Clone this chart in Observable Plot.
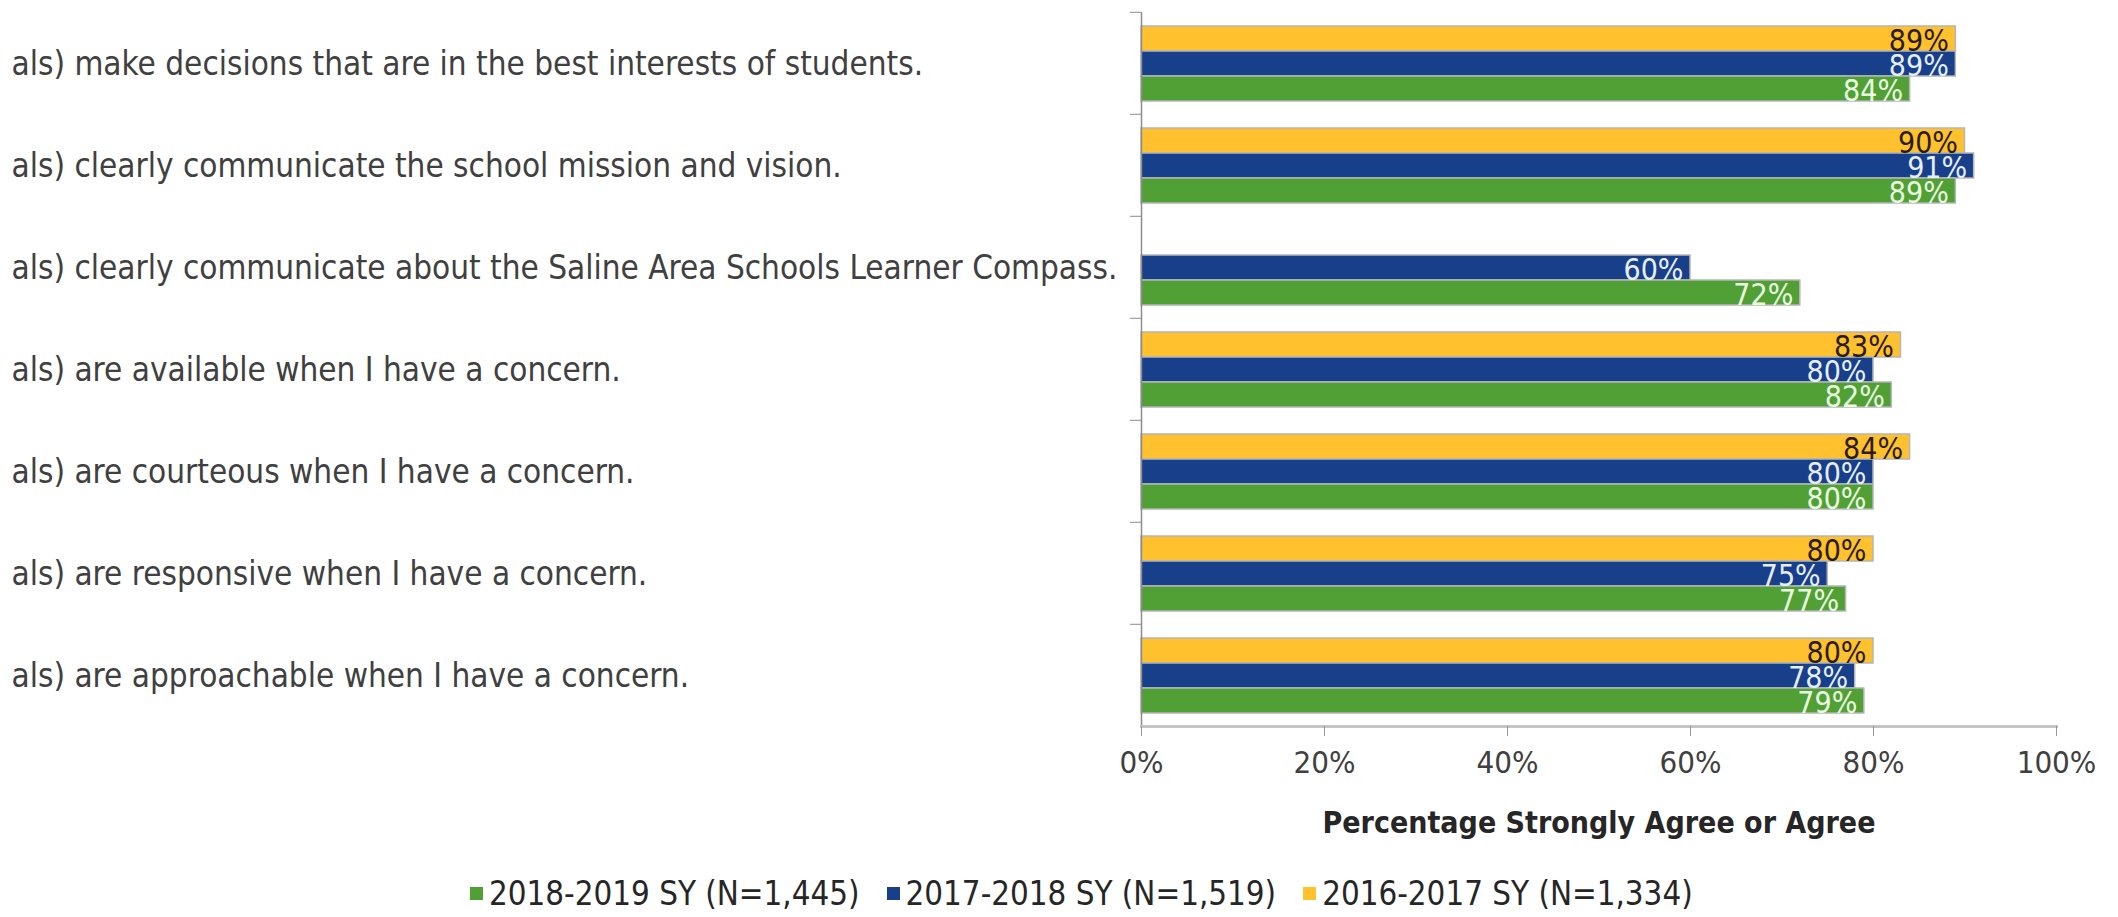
<!DOCTYPE html>
<html><head><meta charset="utf-8">
<script src="https://cdn.jsdelivr.net/npm/d3@7"></script>
<script src="https://cdn.jsdelivr.net/npm/@observablehq/plot@0.6"></script>
<style>
  body { margin:0; background:#fff; }
  #chart { width:2118px; }
  .legend { display:flex; align-items:center; height:57px; padding-left:470px; padding-top:10px; box-sizing:border-box;
            font-family:"DejaVu Sans Condensed","Liberation Sans Narrow",sans-serif; font-size:32.8px; color:#262626; }
  .legend .item { display:flex; align-items:center; margin-right:27px; }
  .legend .sw { width:13px; height:13px; margin-right:6px; }
</style></head>
<body><div id="chart"></div>
<script>
const categories = [
  "als) make decisions that are in the best interests of students.",
  "als) clearly communicate the school mission and vision.",
  "als) clearly communicate about the Saline Area Schools Learner Compass.",
  "als) are available when I have a concern.",
  "als) are courteous when I have a concern.",
  "als) are responsive when I have a concern.",
  "als) are approachable when I have a concern."
];
const series = ["2016-2017 SY (N=1,334)", "2017-2018 SY (N=1,519)", "2018-2019 SY (N=1,445)"];
const v2016 = [89, 90, null, 83, 84, 80, 80];
const v2017 = [89, 91, 60, 80, 80, 75, 78];
const v2018 = [84, 89, 72, 82, 80, 77, 79];
const barColors = ["#FFC12E", "#173F8A", "#50A035"];
const valueLabelColors = ["#2b1c00", "#e6eeff", "#eafee0"];
const legendOrder = [2, 1, 0];
const xTicks = [0, 20, 40, 60, 80, 100];
const xLabel = "Percentage Strongly Agree or Agree";

const F = '"DejaVu Sans Condensed","Liberation Sans Narrow",sans-serif';
const seriesValues = [v2016, v2017, v2018];
const rows = [];
categories.forEach((c, i) => seriesValues.forEach((arr, j) => {
  if (arr[i] != null) rows.push({cat: c, series: series[j], value: arr[i], s: j});
}));

const W = 2118, H = 860, mTop = 10, mBottomY = 727, mLeftX = 1141, mRightX = 2056;
const step = (mBottomY - mTop) / categories.length;

const chart = Plot.plot({
  width: W, height: H,
  marginLeft: mLeftX, marginRight: W - mRightX, marginTop: mTop, marginBottom: H - mBottomY,
  style: {fontFamily: F, fontSize: "31px", color: "#404040", background: "white"},
  x: {domain: [0, 100]},
  fy: {domain: categories, padding: 0, label: null},
  y: {domain: series, paddingInner: 0, paddingOuter: 0.5, axis: null},
  color: {domain: series, range: barColors},
  marks: [
    Plot.barX(rows, {fy: "cat", y: "series", x: "value", fill: "series", stroke: "#b5b5b5", strokeWidth: 1.5}),
    ...series.map((s, j) => Plot.text(rows.filter(r => r.s === j), {
      fy: "cat", y: "series", x: "value", text: d => d.value + "%",
      textAnchor: "end", dx: -7, dy: 2, fill: valueLabelColors[j], fontSize: 30
    })),
    Plot.ruleX([0], {stroke: "#8c8c8c", strokeWidth: 1.5}),
    Plot.axisFy({anchor: "left", tickSize: 11, tickFormat: () => "", dy: -step / 2, stroke: "#8c8c8c", label: null}),
    Plot.axisFy({anchor: "left", tickSize: 0, tickPadding: 0, textAnchor: "start", dx: -(mLeftX - 11), dy: 1, fill: "#404040", fontSize: 33, label: null}),
    Plot.frame({anchor: "bottom", facet: "super", stroke: "#c4c4c4", strokeWidth: 3}),
    Plot.axisX({ticks: xTicks, tickFormat: d => d + "%", tickSize: 10, tickPadding: 14, stroke: "#999", fill: "#404040", label: null}),
    Plot.text([xLabel], {frameAnchor: "bottom", facet: "super", dy: 106, fontWeight: "bold", fill: "#262626", fontSize: 30})
  ]
});
document.getElementById("chart").appendChild(chart);

const leg = document.createElement("div");
leg.className = "legend";
legendOrder.forEach(j => {
  const it = document.createElement("div"); it.className = "item";
  const sw = document.createElement("span"); sw.className = "sw"; sw.style.background = barColors[j];
  const t = document.createElement("span"); t.textContent = series[j];
  it.appendChild(sw); it.appendChild(t); leg.appendChild(it);
});
document.getElementById("chart").appendChild(leg);
</script></body></html>
